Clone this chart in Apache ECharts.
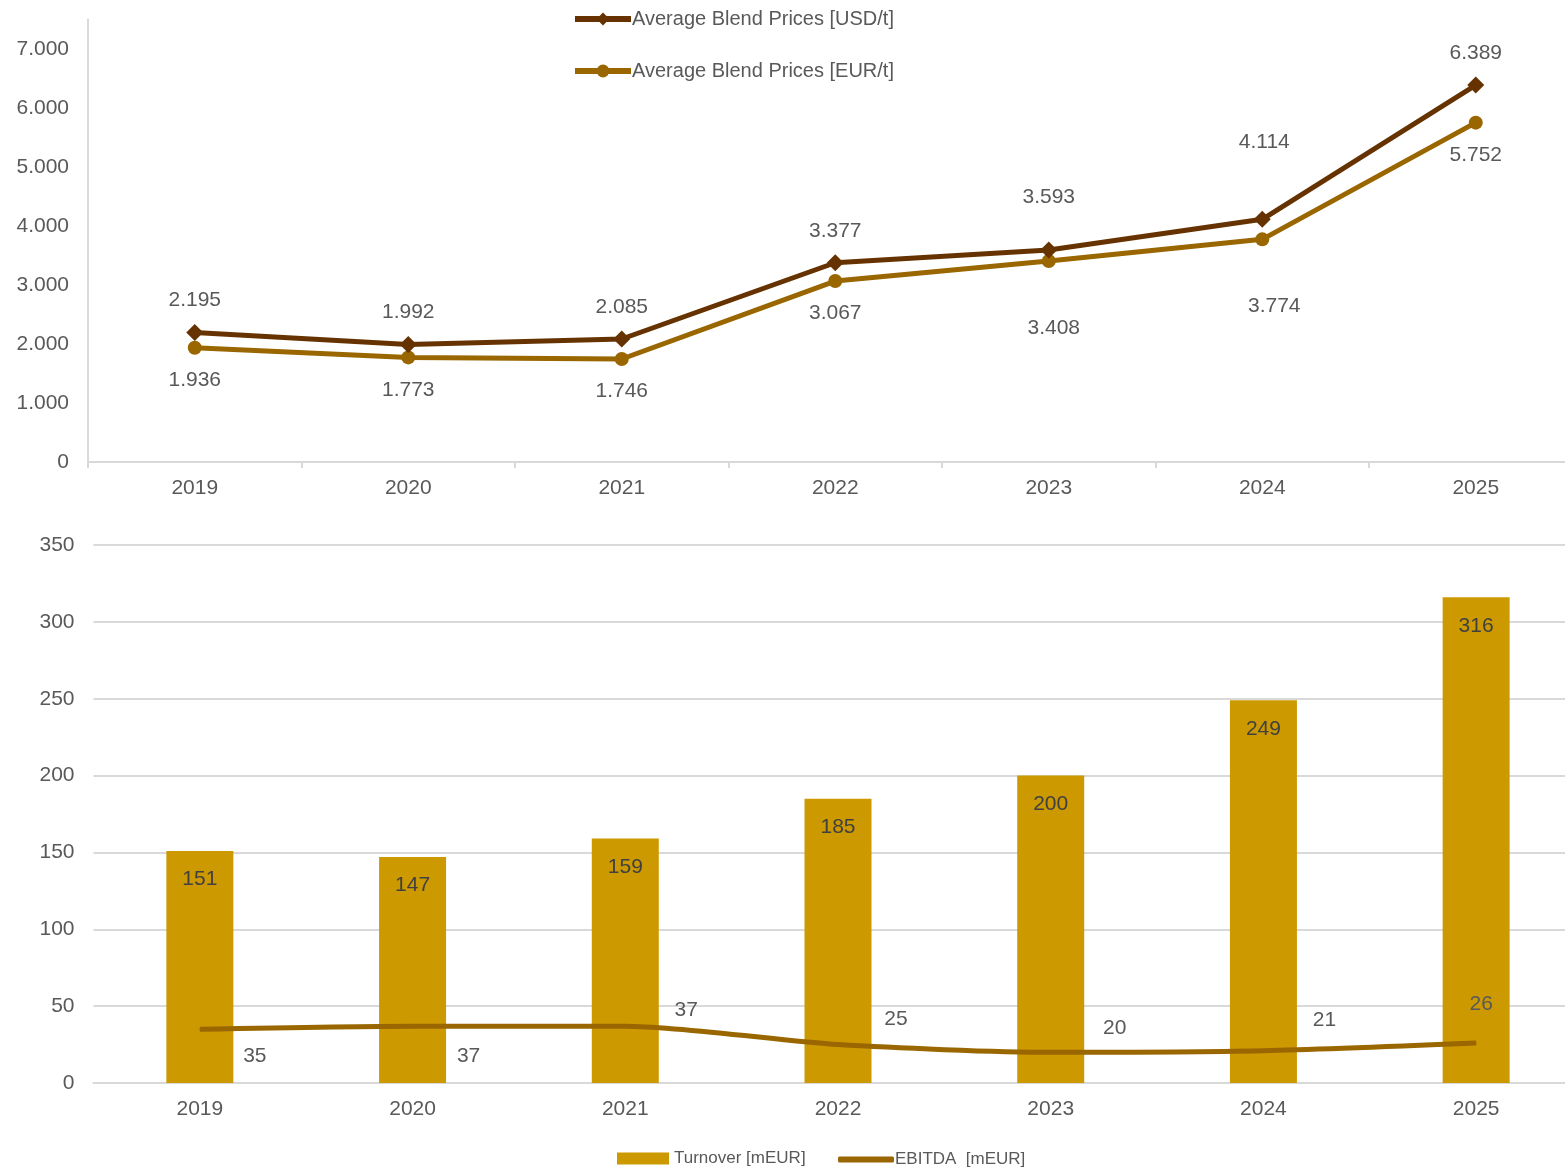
<!DOCTYPE html>
<html><head><meta charset="utf-8">
<script src="https://cdn.jsdelivr.net/npm/echarts@6/dist/echarts.min.js"></script>
<style>html,body{margin:0;padding:0;background:#fff}#c{width:1565px;height:1168px}</style>
</head><body><div id="c"></div>
<script>
const years = ['2019','2020','2021','2022','2023','2024','2025'];
const usdPrices = [2195, 1992, 2085, 3377, 3593, 4114, 6389];
const eurPrices = [1936, 1773, 1746, 3067, 3408, 3774, 5752];
const turnover = [151, 147, 159, 185, 200, 249, 316];
const ebitda = [35, 37, 37, 25, 20, 21, 26];

// label placement (style only)
const usdLabelDist = [13, 13, 13, 13, 34, 58, 13];
const usdLabelDx = [0, 0, 0, 0, 0, 2, 0];
const eurLabelDist = [15, 15, 15, 15, 50, 49, 15];
const eurLabelDx = [0, 0, 0, 0, 5, 12, 0];
const ebitdaOffsets = [[55,27],[56,30],[61,-16],[58,-25],[64,-24],[61,-31],[5,-39]];

const FONT = '"Liberation Sans", Arial, sans-serif';
const TXT = '#595959';
const FS = 21;
const fmt = v => String(Math.round(v)).replace(/\B(?=(\d{3})+(?!\d))/g, '.');

const chart = echarts.init(document.getElementById('c'), null, {renderer: 'canvas'});
chart.setOption({
  animation: false,
  textStyle: {fontFamily: FONT},
  legend: [
    {orient: 'vertical', left: 567, top: 4, itemGap: 32, itemWidth: 56, itemHeight: 16,
     lineStyle: {width: 6},
     textStyle: {color: TXT, fontSize: 20, fontFamily: FONT, padding: [0,0,0,-4]},
     data: ['Average Blend Prices [USD/t]', 'Average Blend Prices [EUR/t]']},
    {left: 612, top: 1145, itemWidth: 52, itemHeight: 12, icon: 'rect',
     textStyle: {color: TXT, fontSize: 17, fontFamily: FONT},
     data: ['Turnover [mEUR]']},
    {left: 833, top: 1146, itemWidth: 56, itemHeight: 6, icon: 'roundRect',
     textStyle: {color: TXT, fontSize: 17, fontFamily: FONT, padding: [0,0,0,-4]},
     data: ['EBITDA  [mEUR]']}
  ],
  grid: [
    {left: 88, width: 1494.5, top: 19.5, height: 442.5, outerBoundsMode: 'none', containLabel: false},
    {left: 93.5, width: 1489, top: 545, height: 538, outerBoundsMode: 'none', containLabel: false}
  ],
  xAxis: [
    {type: 'category', gridIndex: 0, data: years, boundaryGap: true,
     axisLine: {lineStyle: {color: '#d9d9d9', width: 2}},
     axisTick: {show: true, length: 6, lineStyle: {color: '#d9d9d9', width: 2}},
     axisLabel: {color: TXT, fontSize: FS, margin: 16, fontFamily: FONT}},
    {type: 'category', gridIndex: 1, data: years, boundaryGap: true,
     axisLine: {lineStyle: {color: '#d9d9d9', width: 2}},
     axisTick: {show: false},
     axisLabel: {color: TXT, fontSize: FS, margin: 16, fontFamily: FONT}}
  ],
  yAxis: [
    {type: 'value', gridIndex: 0, min: 0, max: 7500, interval: 1000,
     axisLine: {show: true, lineStyle: {color: '#d9d9d9', width: 2}},
     axisTick: {show: false}, splitLine: {show: false},
     axisLabel: {color: TXT, fontSize: FS, margin: 19, fontFamily: FONT, showMaxLabel: false, formatter: fmt}},
    {type: 'value', gridIndex: 1, min: 0, max: 350, interval: 50,
     axisLine: {show: false}, axisTick: {show: false},
     splitLine: {show: true, lineStyle: {color: '#d9d9d9', width: 2}},
     axisLabel: {color: TXT, fontSize: FS, margin: 19, fontFamily: FONT}}
  ],
  series: [
    {name: 'Average Blend Prices [USD/t]', type: 'line', xAxisIndex: 0, yAxisIndex: 0,
     symbol: 'diamond', symbolSize: 17, z: 4,
     itemStyle: {color: '#663300'}, lineStyle: {color: '#663300', width: 5},
     label: {show: true, position: 'top', color: TXT, fontSize: FS, fontFamily: FONT, formatter: p => fmt(p.value)},
     data: usdPrices.map((v, i) => ({value: v, label: {distance: usdLabelDist[i], offset: [usdLabelDx[i], 0]}}))},
    {name: 'Average Blend Prices [EUR/t]', type: 'line', xAxisIndex: 0, yAxisIndex: 0,
     symbol: 'circle', symbolSize: 14, z: 3,
     itemStyle: {color: '#996600'}, lineStyle: {color: '#996600', width: 5},
     label: {show: true, position: 'bottom', color: TXT, fontSize: FS, fontFamily: FONT, formatter: p => fmt(p.value)},
     data: eurPrices.map((v, i) => ({value: v, label: {distance: eurLabelDist[i], offset: [eurLabelDx[i], 0]}}))},
    {name: 'Turnover [mEUR]', type: 'bar', xAxisIndex: 1, yAxisIndex: 1, barWidth: 67,
     itemStyle: {color: '#CC9900'},
     label: {show: true, position: 'insideTop', distance: 18, color: '#404040', fontSize: FS, fontFamily: FONT},
     data: turnover},
    {name: 'EBITDA  [mEUR]', type: 'line', xAxisIndex: 1, yAxisIndex: 1, smooth: 0.25,
     symbol: 'circle', symbolSize: 1, z: 5,
     itemStyle: {color: '#996600'}, lineStyle: {color: '#996600', width: 5},
     label: {show: true, position: 'inside', color: TXT, fontSize: FS, fontFamily: FONT},
     data: ebitda.map((v, i) => ({value: v, label: {offset: ebitdaOffsets[i]}}))}
  ]
});
</script></body></html>
